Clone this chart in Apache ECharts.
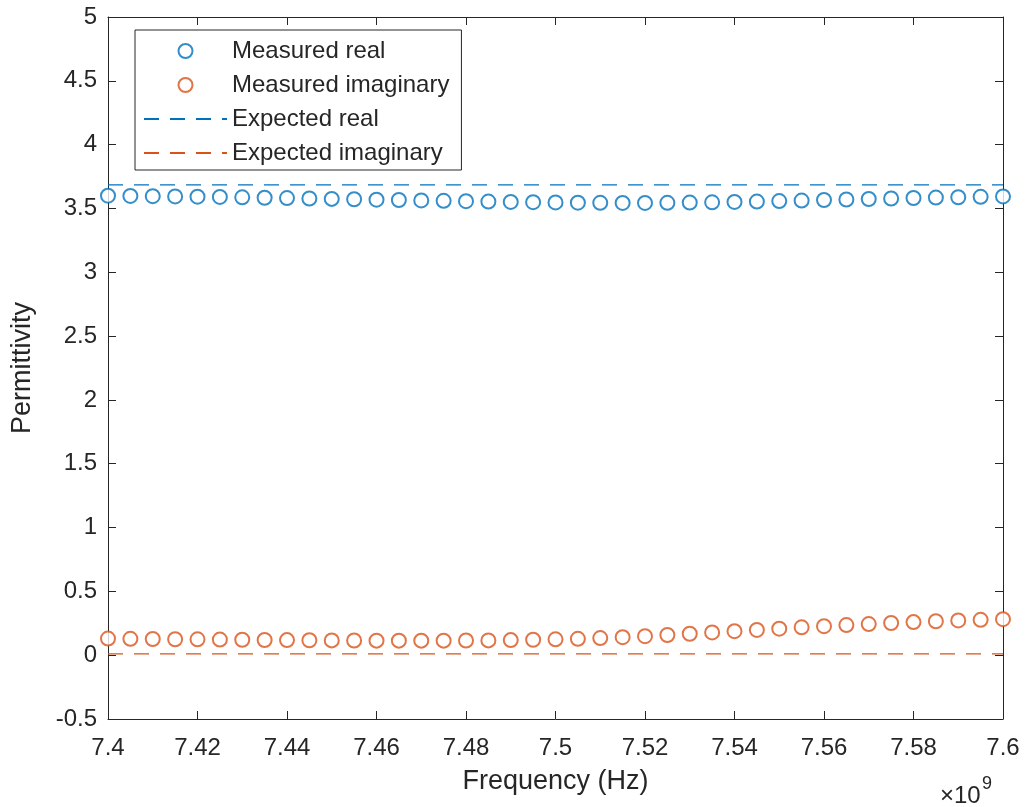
<!DOCTYPE html>
<html>
<head>
<meta charset="utf-8">
<script src="https://cdn.jsdelivr.net/npm/echarts@6/dist/echarts.min.js"></script>
<style>
html,body{margin:0;padding:0;background:#fff;}
#chart{width:1029px;height:807px;}
</style>
</head>
<body>
<div id="chart"></div>
<script>
// Frequency in units of 1e9 Hz
const frequency = [7.400,7.405,7.410,7.415,7.420,7.425,7.430,7.435,7.440,7.445,
  7.450,7.455,7.460,7.465,7.470,7.475,7.480,7.485,7.490,7.495,
  7.500,7.505,7.510,7.515,7.520,7.525,7.530,7.535,7.540,7.545,
  7.550,7.555,7.560,7.565,7.570,7.575,7.580,7.585,7.590,7.595,7.600];
const measuredReal = [3.600,3.598,3.596,3.594,3.592,3.590,3.587,3.584,3.581,3.578,
  3.575,3.572,3.569,3.566,3.563,3.560,3.557,3.554,3.551,3.549,
  3.547,3.545,3.544,3.543,3.543,3.544,3.546,3.548,3.551,3.554,
  3.558,3.562,3.566,3.570,3.574,3.578,3.582,3.585,3.588,3.591,3.594];
const measuredImag = [0.130,0.128,0.127,0.125,0.124,0.122,0.121,0.119,0.118,0.117,
  0.116,0.115,0.114,0.114,0.114,0.114,0.115,0.116,0.118,0.121,
  0.124,0.128,0.134,0.141,0.149,0.158,0.168,0.178,0.188,0.198,
  0.208,0.218,0.227,0.236,0.244,0.252,0.259,0.266,0.272,0.277,0.282];
const expectedFreq = [7.400, 7.600];
const expectedReal = [3.685, 3.685];
const expectedImag = [0.01, 0.01];
const seriesNames = ['Measured real','Measured imaginary','Expected real','Expected imaginary'];

const BLUE = '#0072BD', ORANGE = '#D95319', INK = '#262626';
const FONT = 'Liberation Sans, Arial, sans-serif';
const fmtX = v => String(parseFloat(v.toFixed(3)));
const fmtY = v => String(parseFloat(v.toFixed(2)));

const zip = (xs, ys) => xs.map((x, i) => [x, ys[i]]);

const chart = echarts.init(document.getElementById('chart'), null, {renderer: 'canvas'});
const axisCommon = {
  axisLine: {show: true, onZero: false, lineStyle: {color: INK, width: 1}},
  axisTick: {show: true, inside: true, length: 8, lineStyle: {color: INK, width: 1}},
  splitLine: {show: false}
};
chart.setOption({
  animation: false,
  backgroundColor: '#fff',
  textStyle: {fontFamily: FONT},
  grid: {left: 108, right: 26, top: 17, bottom: 88, containLabel: false},
  xAxis: [
    Object.assign({}, axisCommon, {
      type: 'value', min: 7.4, max: 7.6, interval: 0.02, position: 'bottom',
      name: 'Frequency (Hz)', nameLocation: 'middle', nameGap: 49,
      nameTextStyle: {color: INK, fontSize: 27, fontFamily: FONT},
      axisLabel: {color: INK, fontSize: 24, margin: 17, fontFamily: FONT, formatter: fmtX}
    }),
    Object.assign({}, axisCommon, {
      type: 'value', min: 7.4, max: 7.6, interval: 0.02, position: 'top',
      axisLabel: {show: false}
    })
  ],
  yAxis: [
    Object.assign({}, axisCommon, {
      type: 'value', min: -0.5, max: 5, interval: 0.5, position: 'left',
      name: 'Permittivity', nameLocation: 'middle', nameGap: 72,
      nameTextStyle: {color: INK, fontSize: 27, fontFamily: FONT},
      axisLabel: {color: INK, fontSize: 24, margin: 11, fontFamily: FONT, formatter: fmtY}
    }),
    Object.assign({}, axisCommon, {
      type: 'value', min: -0.5, max: 5, interval: 0.5, position: 'right',
      axisLabel: {show: false}
    })
  ],
  legend: {
    left: 135, top: 30, orient: 'vertical',
    backgroundColor: '#fff', borderColor: INK, borderWidth: 1,
    padding: [9, 12, 5, 8],
    itemWidth: 83, itemHeight: 14, itemGap: 10,
    textStyle: {color: INK, fontSize: 24, fontFamily: FONT},
    data: [
      {name: seriesNames[0]},
      {name: seriesNames[1]},
      {name: seriesNames[2], itemStyle: {opacity: 0}},
      {name: seriesNames[3], itemStyle: {opacity: 0}}
    ]
  },
  series: [
    {
      name: seriesNames[0], type: 'scatter', data: zip(frequency, measuredReal),
      symbol: 'emptyCircle', symbolSize: 14,
      itemStyle: {color: BLUE, borderColor: BLUE, borderWidth: 1.4}
    },
    {
      name: seriesNames[1], type: 'scatter', data: zip(frequency, measuredImag),
      symbol: 'emptyCircle', symbolSize: 14,
      itemStyle: {color: ORANGE, borderColor: ORANGE, borderWidth: 1.4}
    },
    {
      name: seriesNames[2], type: 'line', data: zip(expectedFreq, expectedReal),
      symbol: 'none', showSymbol: false, z: 1,
      itemStyle: {color: 'rgba(0,0,0,0)'},
      lineStyle: {color: BLUE, width: 1.4, type: [15, 11]}
    },
    {
      name: seriesNames[3], type: 'line', data: zip(expectedFreq, expectedImag),
      symbol: 'none', showSymbol: false, z: 1,
      itemStyle: {color: 'rgba(0,0,0,0)'},
      lineStyle: {color: ORANGE, width: 1.4, type: [15, 11]}
    }
  ],
  graphic: [
    {type: 'text', left: 940, top: 784,
     style: {text: '×10', fontSize: 24, fill: INK, fontFamily: FONT}},
    {type: 'text', left: 982, top: 775,
     style: {text: '9', fontSize: 18, fill: INK, fontFamily: FONT}}
  ]
});
</script>
</body>
</html>
